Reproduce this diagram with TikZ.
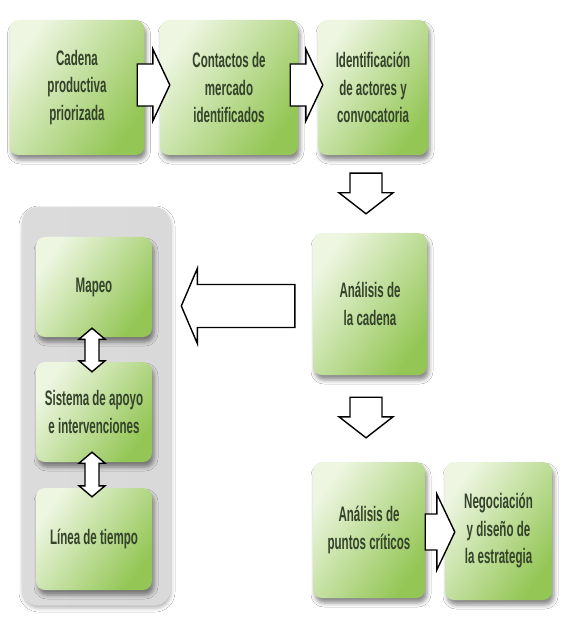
\documentclass[tikz,border=0pt]{standalone}
\usepackage{fontspec}
\usetikzlibrary{calc,shadows.blur}
\newfontfamily\boxfontfam[FakeStretch=0.55]{Liberation Sans}
\newcommand\boxfont{\boxfontfam\bfseries\fontsize{21}{27.5}\selectfont}
\definecolor{gLight}{HTML}{EEF6E2}
\definecolor{gDark}{HTML}{93C655}
\definecolor{txt}{HTML}{34432A}
\tikzset{
  gbox/.style={rounded corners=9pt, top color=gLight, bottom color=gDark, shading angle=55,
    align=center, font=\boxfont, text=txt, inner sep=2pt,
    blur shadow={shadow xshift=2pt, shadow yshift=-5pt, shadow blur radius=4pt, shadow opacity=45}},
  container/.style={rounded corners=16pt, left color=gray!28, middle color=gray!6, right color=gray!30,
    draw=gray!25, line width=0.6pt,
    blur shadow={shadow xshift=1pt, shadow yshift=-3pt, shadow blur radius=4pt, shadow opacity=30}},
  barrow/.style={draw=black, fill=white, line width=1.4pt, line join=miter}
}
% block arrows: start, tip, shaft half, head half, head length
\newcommand\arrR[5]{\draw[barrow] let \p1=(#1),\p2=(#2) in
  (\x1,\y1+#3) -- (\x2-#5,\y1+#3) -- (\x2-#5,\y1+#4) -- (\x2,\y1) -- (\x2-#5,\y1-#4) -- (\x2-#5,\y1-#3) -- (\x1,\y1-#3) -- cycle;}
\newcommand\arrL[5]{\draw[barrow] let \p1=(#1),\p2=(#2) in
  (\x1,\y1+#3) -- (\x2+#5,\y1+#3) -- (\x2+#5,\y1+#4) -- (\x2,\y1) -- (\x2+#5,\y1-#4) -- (\x2+#5,\y1-#3) -- (\x1,\y1-#3) -- cycle;}
\newcommand\arrD[5]{\draw[barrow] let \p1=(#1),\p2=(#2) in
  (\x1-#3,\y1) -- (\x1-#3,\y2+#5) -- (\x1-#4,\y2+#5) -- (\x1,\y2) -- (\x1+#4,\y2+#5) -- (\x1+#3,\y2+#5) -- (\x1+#3,\y1) -- cycle;}
\newcommand\arrUD[5]{\draw[barrow] let \p1=(#1),\p2=(#2) in
  (\x1,\y1) -- (\x1+#4,\y1-#5) -- (\x1+#3,\y1-#5) -- (\x1+#3,\y2+#5) -- (\x1+#4,\y2+#5) -- (\x1,\y2)
  -- (\x1-#4,\y2+#5) -- (\x1-#3,\y2+#5) -- (\x1-#3,\y1-#5) -- (\x1-#4,\y1-#5) -- cycle;}
\begin{document}
\begin{tikzpicture}[x=1pt,y=-1pt]
\useasboundingbox (0,0) rectangle (561,617);
\fill[white] (0,0) rectangle (561,617);
% container
\node[container, minimum width=148pt, minimum height=398pt] (c) at (96,406) {};
% boxes
\node[gbox, minimum width=135pt, minimum height=135pt] (b1) at (77,87.5) {Cadena\\productiva\\priorizada};
\node[gbox, minimum width=138pt, minimum height=135pt] (b2) at (229,87.5) {Contactos de\\mercado\\identificados};
\node[gbox, minimum width=110pt, minimum height=135pt] (b3) at (373,87.5) {Identificación\\de actores y\\convocatoria};
\node[gbox, minimum width=114pt, minimum height=142pt] (b4) at (370,304) {Análisis de\\la cadena};
\node[gbox, minimum width=112pt, minimum height=136pt] (b5) at (369,530) {Análisis de\\puntos críticos};
\node[gbox, minimum width=107pt, minimum height=138pt] (b6) at (498.5,531) {Negociación\\y diseño de\\la estrategia};
\node[gbox, minimum width=116pt, minimum height=100pt] (m1) at (94,287) {Mapeo};
\node[gbox, minimum width=116pt, minimum height=100pt] (m2) at (94,412) {Sistema de apoyo\\e intervenciones};
\node[gbox, minimum width=116pt, minimum height=102pt] (m3) at (94,539) {Línea de tiempo};
% arrows
\arrR{$(b1.east)+(-7.5,-2.5)$}{$(b2.west)+(10,0)$}{21pt}{36pt}{17pt}
\arrR{$(b2.east)+(-8,-2.5)$}{$(b3.west)+(5,0)$}{21pt}{36pt}{17pt}
\arrD{$(b3.south)+(-7,18)$}{$(b4.north)+(0,-19)$}{16pt}{27pt}{21pt}
\arrL{$(b4.west)+(-18,2)$}{$(c.east)+(11,0)$}{21.5pt}{37.5pt}{16pt}
\arrD{$(b4.south)+(-4,22)$}{$(b5.north)+(0,-24)$}{16pt}{27pt}{21pt}
\arrR{$(b5.east)+(0,2)$}{$(b6.west)+(10,0)$}{18pt}{38pt}{18pt}
\arrUD{$(m1.south)+(-2,-9)$}{$(m2.north)+(0,10)$}{7pt}{13pt}{11pt}
\arrUD{$(m2.south)+(-2,-10)$}{$(m3.north)+(0,9)$}{7pt}{13pt}{11pt}
\end{tikzpicture}
\end{document}
